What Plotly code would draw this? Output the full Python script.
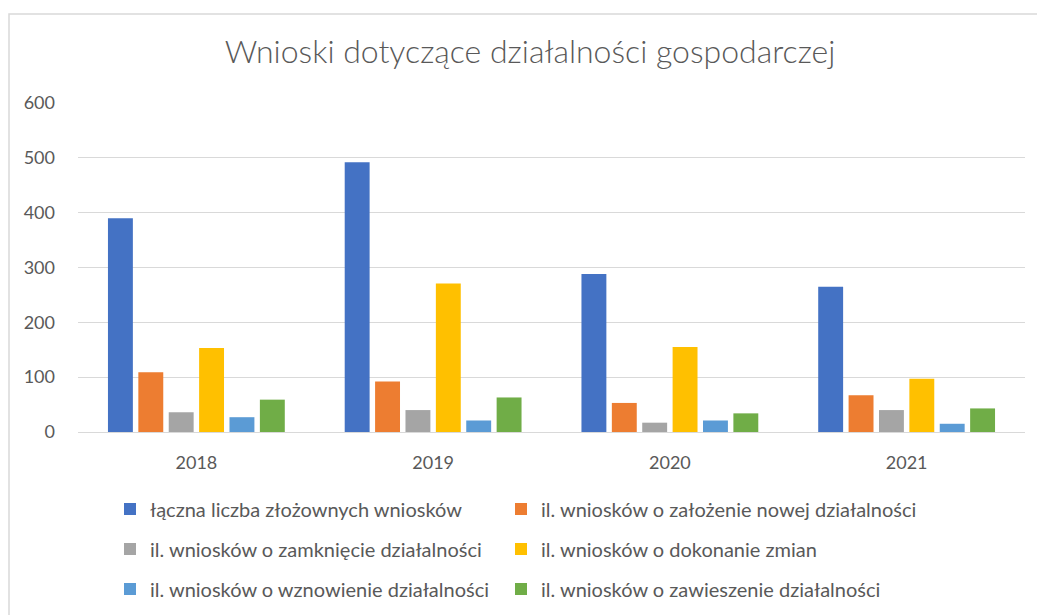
import plotly.graph_objects as go

years = ["2018", "2019", "2020", "2021"]
series_names = [
    "łączna liczba złożownych wniosków",
    "il. wniosków o założenie nowej działalności",
    "il. wniosków o zamknięcie działalności",
    "il. wniosków o dokonanie zmian",
    "il. wniosków o wznowienie działalności",
    "il. wniosków o zawieszenie działalności",
]
total = [390, 492, 288, 265]
new_business = [109, 92, 53, 67]
closing = [36, 40, 17, 40]
changes = [153, 271, 155, 97]
resumption = [27, 21, 21, 15]
suspension = [59, 63, 34, 43]
series_values = [total, new_business, closing, changes, resumption, suspension]
colors = ["#4472C4", "#ED7D31", "#A5A5A5", "#FFC000", "#5B9BD5", "#70AD47"]
y_ticks = [0, 100, 200, 300, 400, 500, 600]

W, H = 1037, 615
L, R, T, B = 78, 12, 103, 183
FONT = "Lato"
TXT = "#595959"

fig = go.Figure()
# legend placement: (item text start x px, row centre y px)
leg_pos = [(150, 509), (541, 509), (150, 549), (541, 549), (150, 589), (541, 589)]
for i, (name, vals, col) in enumerate(zip(series_names, series_values, colors)):
    lg = "legend" if i == 0 else f"legend{i+1}"
    fig.add_trace(go.Bar(x=years, y=vals, name=name, marker_color=col,
                         marker_line_width=0, legend=lg))

plot_h = H - T - B
layout_legends = {}
for i, (tx, ty) in enumerate(leg_pos):
    key = "legend" if i == 0 else f"legend{i+1}"
    layout_legends[key] = dict(
        x=(tx - 40) / W, xref="container", xanchor="left",
        y=1 - ty / H, yref="container", yanchor="middle",
        bgcolor="rgba(0,0,0,0)", borderwidth=0,
        font=dict(family=FONT, size=20, color=TXT),
        orientation="h",
    )

fig.update_layout(
    width=W, height=H,
    margin=dict(l=L, r=R, t=T, b=B),
    paper_bgcolor="white", plot_bgcolor="white",
    barmode="group", bargap=0.23, bargroupgap=0.18,
    title=dict(text="Wnioski dotyczące działalności gospodarczej",
               x=530 / W, xref="container", xanchor="center",
               y=1 - 52 / H, yref="container", yanchor="middle",
               font=dict(family=FONT, size=32, color=TXT, weight=300)),
    font=dict(family=FONT, color=TXT),
    showlegend=True,
    **layout_legends,
)
fig.update_yaxes(range=[0, 600], tickvals=y_ticks, showgrid=True,
                 gridcolor="#d9d9d9", gridwidth=1, zeroline=False,
                 tickfont=dict(family=FONT, size=18, color=TXT),
                 ticks="", ticklabelstandoff=22, fixedrange=True)
fig.update_xaxes(showline=True, linecolor="#d9d9d9", linewidth=1,
                 tickfont=dict(family=FONT, size=18, color=TXT),
                 ticks="", ticklabelstandoff=14, fixedrange=True)

# chart frame (left and top edge visible)
fig.add_shape(type="rect", xref="paper", yref="paper",
              x0=(9 - L) / (W - L - R), x1=(W + 20 - L) / (W - L - R),
              y0=-(H + 20 - (H - B)) / plot_h, y1=(H - B - 14) / plot_h,
              line=dict(color="#d9d9d9", width=1.5), fillcolor="rgba(0,0,0,0)",
              layer="below")

fig.write_html("out.html", config={"displayModeBar": False},
               post_script="document.body.style.margin='0';document.body.style.overflow='hidden';")
